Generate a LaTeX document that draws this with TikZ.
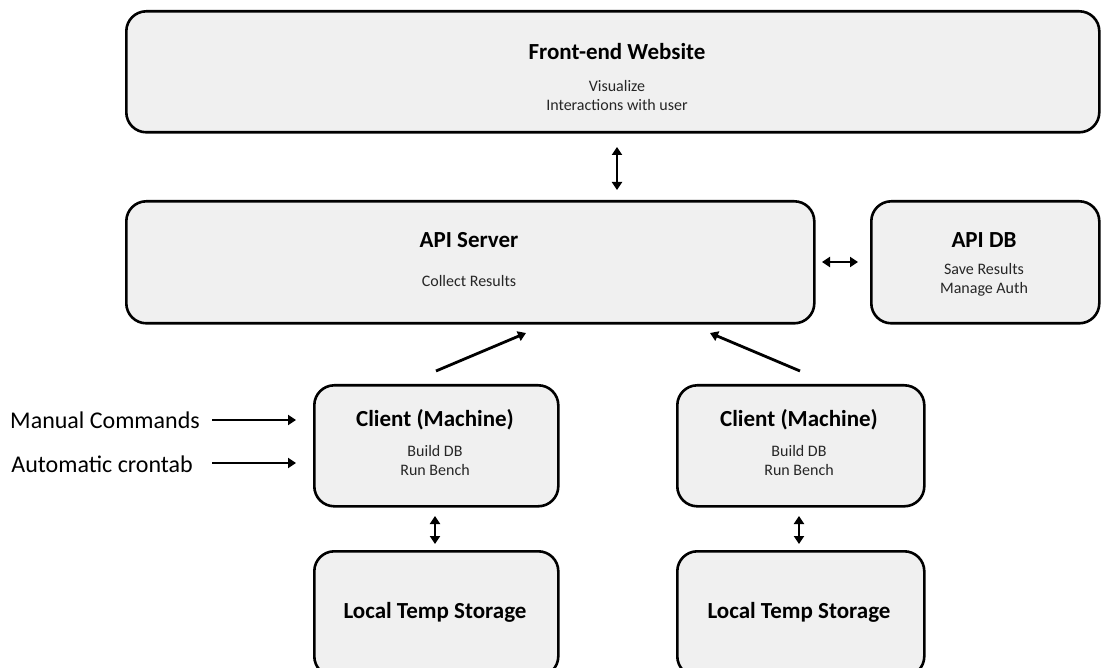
\documentclass[tikz,border=0pt]{standalone}
\usepackage{fontspec}
\setmainfont{Carlito}
\usetikzlibrary{arrows.meta}
\definecolor{boxfill}{HTML}{F0F0F0}
\begin{document}
\begin{tikzpicture}[x=1pt,y=-1pt,
  box/.style={draw=black, fill=boxfill, line width=2.6pt, rounded corners=20pt, inner sep=0pt, anchor=north west},
  ttl/.style={font=\fontsize{23}{27}\selectfont\bfseries, inner sep=0pt},
  sub/.style={font=\fontsize{16}{19}\selectfont, inner sep=0pt, align=center, text=black!85},
  side/.style={font=\fontsize{24}{28}\selectfont, inner sep=0pt, anchor=east},
  tip/.style={Triangle[length=8pt,width=10pt]},
  arr/.style={line width=2.8pt, -{Triangle[length=8pt,width=10pt]}},
  dbl/.style={line width=2.8pt, {Triangle[length=8pt,width=10pt]}-{Triangle[length=8pt,width=10pt]}}
]
\useasboundingbox (0,0) rectangle (1101,668);
\clip (0,0) rectangle (1101,668);
% boxes
\node[box, minimum width=973pt, minimum height=121pt] (fe) at (125,10) {};
\node[box, minimum width=688pt, minimum height=122pt] (api) at (125,200) {};
\node[box, minimum width=228pt, minimum height=122pt] (db) at (870,200) {};
\node[box, minimum width=244pt, minimum height=121pt] (c1) at (313,384) {};
\node[box, minimum width=247pt, minimum height=121pt] (c2) at (676,384) {};
\node[box, minimum width=244pt, minimum height=125pt] (s1) at (313,550) {};
\node[box, minimum width=247pt, minimum height=125pt] (s2) at (676,550) {};
% texts
\node[ttl] (fet) at (617,52) {Front-end Website};
\node[sub] (fes) at (617,96) {Visualize\\Interactions with user};
\node[ttl] (apit) at (469,240) {API Server};
\node[sub] (apis) at (469,281) {Collect Results};
\node[ttl] (dbt) at (984,240) {API DB};
\node[sub] (dbs) at (984,280) {Save Results\\Manage Auth};
\node[ttl] (c1t) at (435,420) {Client (Machine)};
\node[sub] (c1s) at (435,461) {Build DB\\Run Bench};
\node[ttl] (c2t) at (799,420) {Client (Machine)};
\node[sub] (c2s) at (799,461) {Build DB\\Run Bench};
\node[ttl] (s1t) at (435,612) {Local Temp Storage};
\node[ttl] (s2t) at (799,612) {Local Temp Storage};
\node[side] (man) at (200,420) {Manual Commands};
\node[side] (aut) at (193,464) {Automatic crontab};
% connector coordinates
\coordinate (a1) at (617,147); \coordinate (a2) at (617,190);
\coordinate (b1) at (822,262); \coordinate (b2) at (858,262);
\coordinate (l1) at (436,371); \coordinate (l2) at (526,333);
\coordinate (r1) at (800,371); \coordinate (r2) at (710,333);
\coordinate (d1) at (435,516); \coordinate (d2) at (435,544);
\coordinate (e1) at (799,516); \coordinate (e2) at (799,544);
\coordinate (m1) at (212,420); \coordinate (m2) at (296,420);
\coordinate (n1) at (212,463); \coordinate (n2) at (296,463);
% connectors
\draw[dbl] (a1) -- (a2);
\draw[dbl] (b1) -- (b2);
\draw[arr] (l1) -- (l2);
\draw[arr] (r1) -- (r2);
\draw[dbl] (d1) -- (d2);
\draw[dbl] (e1) -- (e2);
\draw[arr] (m1) -- (m2);
\draw[arr] (n1) -- (n2);
\end{tikzpicture}
\end{document}
